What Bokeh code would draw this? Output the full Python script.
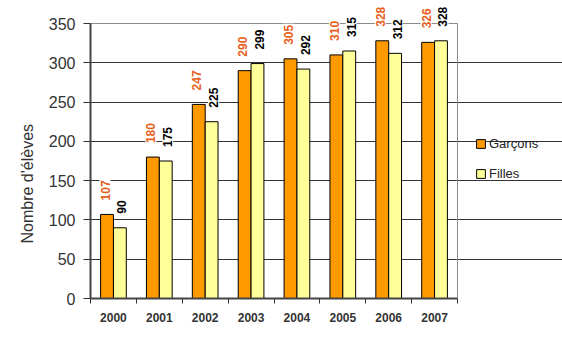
from math import pi
from bokeh.plotting import figure
from bokeh.models import ColumnDataSource, FixedTicker, Legend, LegendItem, Range1d, Title
from bokeh.transform import dodge
from bokeh.core.properties import value
from bokeh.embed import file_html
from bokeh.resources import INLINE

years = ["2000", "2001", "2002", "2003", "2004", "2005", "2006", "2007"]
garcons = [107, 180, 247, 290, 305, 310, 328, 326]
filles = [90, 175, 225, 299, 292, 315, 312, 328]
y_ticks = [0, 50, 100, 150, 200, 250, 300, 350]

n = len(years)
ymax = y_ticks[-1]
xc = [i + 0.5 for i in range(n)]
src = ColumnDataSource(dict(
    xc=xc, g=garcons, f=filles,
    gl=[str(v) for v in garcons], fl=[str(v) for v in filles],
))

FONT = "Liberation Sans"

# plot area: 367 px for the 8 categories, 275 px for 0..350; extra room right/top for legend & labels
x_end = n * 472 / 367
y_end = ymax * 293 / 275

p = figure(width=562, height=355, x_range=Range1d(0, x_end), y_range=Range1d(0, y_end),
           output_backend="svg", toolbar_location=None,
           min_border_left=90, min_border_right=0, min_border_top=5, min_border_bottom=57)
p.outline_line_color = None

p.ygrid.ticker = FixedTicker(ticks=y_ticks[:-1])
p.ygrid.grid_line_color = "#333333"
p.ygrid.grid_line_width = 1
p.ygrid.bounds = (0, n)
p.xgrid.visible = False

# top and right border of the plot area
p.segment(x0=[0, n], y0=[ymax, 0], x1=[n, n], y1=[ymax, ymax], line_color="#8c8c8c", line_width=1)

r1 = p.vbar(x=dodge("xc", -0.14, range=p.x_range), top="g", width=0.28, source=src,
            fill_color="#FF9900", line_color="black", line_width=1)
r2 = p.vbar(x=dodge("xc", 0.14, range=p.x_range), top="f", width=0.28, source=src,
            fill_color="#FFFF99", line_color="black", line_width=1)

p.text(x=dodge("xc", -0.14, range=p.x_range), y="g", text="gl", source=src, angle=pi / 2,
       text_align="left", text_baseline="middle", y_offset=-13, x_offset=-2,
       background_fill_color="white", padding=1,
       text_font=value(FONT), text_font_style="bold", text_font_size="12px", text_color="#E8601C")
p.text(x=dodge("xc", 0.14, range=p.x_range), y="f", text="fl", source=src, angle=pi / 2,
       text_align="left", text_baseline="middle", y_offset=-13, x_offset=2,
       background_fill_color="white", padding=1,
       text_font=value(FONT), text_font_style="bold", text_font_size="12px", text_color="black")

# x axis
xa = p.xaxis[0]
xa.bounds = (0, n)
xa.ticker = FixedTicker(ticks=xc, minor_ticks=list(range(n + 1)))
xa.major_label_overrides = {c: y for c, y in zip(xc, years)}
xa.major_tick_out = 0
xa.major_tick_in = 0
xa.minor_tick_out = 5
xa.minor_tick_in = 0
xa.minor_tick_line_color = "#333333"
xa.axis_line_color = "#444444"
xa.axis_line_width = 2
xa.major_label_text_font = FONT
xa.major_label_text_font_style = "bold"
xa.major_label_text_font_size = "12px"
xa.major_label_text_color = "#333333"
xa.major_label_standoff = 9

# y axis
ya = p.yaxis[0]
ya.bounds = (0, ymax)
ya.ticker = FixedTicker(ticks=y_ticks, minor_ticks=[])
ya.major_tick_out = 7
ya.major_tick_in = 0
ya.major_tick_line_color = "#333333"
ya.axis_line_color = "#444444"
ya.axis_line_width = 2
ya.major_label_text_font = FONT
ya.major_label_text_font_size = "16px"
ya.major_label_text_color = "#333333"
ya.major_label_standoff = 8

p.add_layout(Title(text="Nombre d'élèves", align="left", offset=55, standoff=20,
                   text_font=FONT, text_font_size="16px", text_font_style="normal",
                   text_color="#333333"), "left")

legend = Legend(items=[LegendItem(label="Garçons", renderers=[r1]),
                       LegendItem(label="Filles", renderers=[r2])],
                location=(385, 117), glyph_width=11, glyph_height=11, label_height=11,
                spacing=15, padding=0, margin=0, border_line_color=None,
                background_fill_alpha=0, label_text_font=FONT, label_text_font_size="13px",
                label_text_color="#222222", label_standoff=3)
p.add_layout(legend)

open("out.html", "w").write(file_html(p, INLINE))
